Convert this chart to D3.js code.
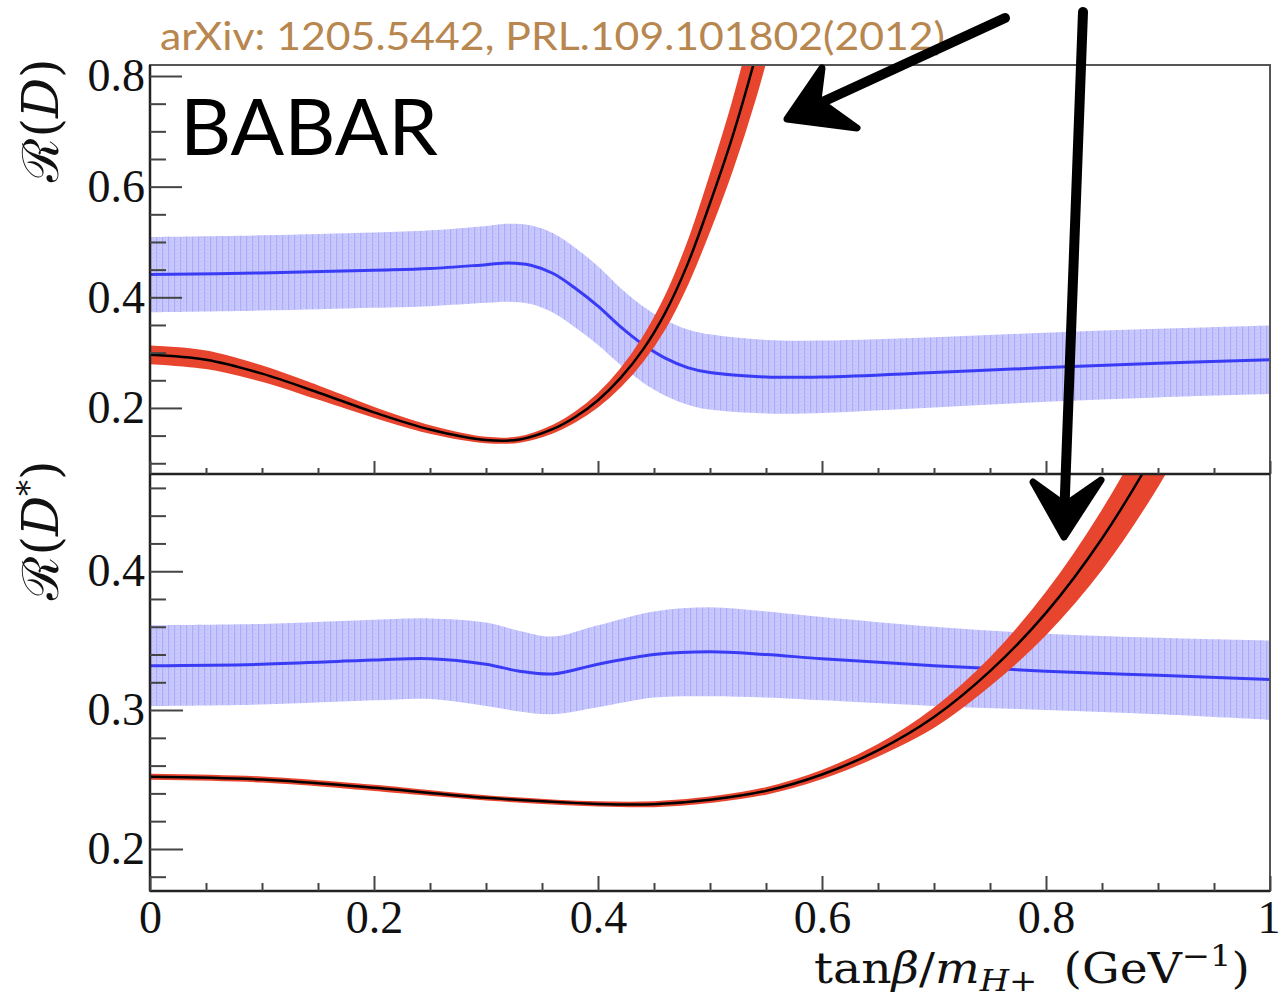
<!DOCTYPE html>
<html><head><meta charset="utf-8">
<script src="https://cdn.jsdelivr.net/npm/d3@7"></script>
<style>body{margin:0;background:#fff}svg{display:block}</style>
</head><body>
<svg id="c" width="1280" height="1002"></svg>
<script>
// ---------- data ----------
const topBlueX     = [0, 0.1, 0.2, 0.25, 0.3, 0.32, 0.34, 0.36, 0.38, 0.4, 0.42, 0.44, 0.46, 0.48, 0.5, 0.55, 0.6, 0.7, 0.8, 0.9, 1.0];
const topBlueMid   = [0.441,0.444,0.449,0.452,0.459,0.462,0.458,0.443,0.416,0.384,0.347,0.315,0.290,0.273,0.264,0.256,0.256,0.264,0.273,0.281,0.287];
const topBlueHigh  = [0.509,0.512,0.517,0.521,0.529,0.533,0.530,0.516,0.489,0.456,0.417,0.384,0.359,0.342,0.333,0.323,0.322,0.328,0.336,0.343,0.349];
const topBlueLow   = [0.373,0.376,0.381,0.384,0.390,0.392,0.388,0.372,0.345,0.314,0.278,0.246,0.222,0.206,0.197,0.190,0.191,0.201,0.211,0.219,0.225];

const topRedX    = [0, 0.05, 0.1, 0.15, 0.2, 0.25, 0.3, 0.33, 0.36, 0.38, 0.4, 0.42, 0.44, 0.46, 0.48, 0.5, 0.52, 0.54, 0.56];
const topRedMid  = [0.296,0.287,0.262,0.228,0.192,0.161,0.142,0.143,0.162,0.184,0.214,0.254,0.305,0.372,0.460,0.570,0.690,0.830,0.990];
const topRedHigh = [0.311,0.302,0.275,0.239,0.200,0.167,0.146,0.147,0.168,0.192,0.225,0.269,0.326,0.400,0.497,0.618,0.750,0.905,1.085];
const topRedLow  = [0.281,0.272,0.249,0.217,0.184,0.155,0.138,0.139,0.156,0.176,0.203,0.239,0.285,0.345,0.425,0.523,0.632,0.758,0.905];

const botBlueX    = [0, 0.1, 0.2, 0.25, 0.3, 0.33, 0.36, 0.4, 0.45, 0.5, 0.55, 0.6, 0.7, 0.8, 0.9, 1.0];
const botBlueMid  = [0.332,0.333,0.336,0.337,0.333,0.328,0.326,0.333,0.340,0.342,0.340,0.337,0.332,0.328,0.325,0.322];
const botBlueHigh = [0.361,0.362,0.365,0.366,0.363,0.357,0.353,0.361,0.371,0.374,0.371,0.367,0.360,0.355,0.352,0.350];
const botBlueLow  = [0.303,0.304,0.307,0.308,0.303,0.299,0.297,0.302,0.309,0.310,0.309,0.307,0.303,0.300,0.297,0.293];

const botRedX    = [0, 0.1, 0.2, 0.3, 0.4, 0.45, 0.5, 0.55, 0.6, 0.65, 0.7, 0.75, 0.8, 0.85, 0.9, 0.95];
const botRedMid  = [0.252,0.250,0.244,0.2368,0.2324,0.2322,0.2354,0.2418,0.2536,0.271,0.295,0.328,0.370,0.4236,0.490,0.570];
const botRedHigh = [0.2535,0.2515,0.2455,0.238,0.2336,0.2336,0.237,0.2438,0.2562,0.2748,0.301,0.337,0.384,0.443,0.515,0.600];
const botRedLow  = [0.2505,0.2485,0.2425,0.2356,0.2312,0.2308,0.2338,0.2398,0.251,0.2672,0.288,0.318,0.355,0.402,0.462,0.535];

const xTickLabels   = ["0","0.2","0.4","0.6","0.8","1"];
const xTickValues   = [0,0.2,0.4,0.6,0.8,1];
const topYTicks     = [0.2,0.4,0.6,0.8];
const topYLabels    = ["0.2","0.4","0.6","0.8"];
const botYTicks     = [0.2,0.3,0.4];
const botYLabels    = ["0.2","0.3","0.4"];
const topYLabel     = "D";
const botYLabel     = "D";
const experimentTxt = "BABAR";
const refTxt        = "arXiv: 1205.5442, PRL.109.101802(2012)";

// ---------- layout ----------
const svg = d3.select("#c");
const X0 = 150, X1 = 1270;
const T0 = 65, T1 = 474, B0 = 474, B1 = 891;
const x = d3.scaleLinear().domain([0,1]).range([X0,X1]);
const yT = d3.scaleLinear().domain([0.0806,0.8199]).range([T1,T0]);
const yB = d3.scaleLinear().domain([0.1697,0.4700]).range([B1,B0]);

const BLUE="#3a3cf5", RED="#e8452f";
const SERIF = "'Liberation Serif','DejaVu Serif',serif";
const MATH = "'DejaVu Serif','Liberation Serif',serif";

const defs = svg.append("defs");
const pat = defs.append("pattern").attr("id","bp").attr("patternUnits","userSpaceOnUse").attr("width",6).attr("height",4);
pat.append("rect").attr("width",6).attr("height",4).attr("fill","#c8c8fd");
pat.append("rect").attr("x",0).attr("width",1.2).attr("height",4).attr("fill","#acacfa");
pat.append("rect").attr("x",3).attr("y",1).attr("width",1).attr("height",1).attr("fill","#b4b4fb");

defs.append("clipPath").attr("id","clipT").append("rect").attr("x",X0).attr("y",T0).attr("width",X1-X0).attr("height",T1-T0);
defs.append("clipPath").attr("id","clipB").append("rect").attr("x",X0).attr("y",B0).attr("width",X1-X0).attr("height",B1-B0);

const CURVE = d3.curveCatmullRom.alpha(0.5);
function drawPanel(clip, y, bx, bm, bh, bl, rx, rm, rh, rl){
  const g = svg.append("g").attr("clip-path",`url(#${clip})`);
  const area = (xs,hi,lo)=> d3.area().curve(CURVE).x((d,i)=>x(xs[i])).y0((d,i)=>y(lo[i])).y1((d,i)=>y(hi[i]))(xs);
  const line = (xs,v)=> d3.line().curve(CURVE).x((d,i)=>x(xs[i])).y((d,i)=>y(v[i]))(xs);
  g.append("path").attr("d",area(bx,bh,bl)).attr("fill","url(#bp)");
  g.append("path").attr("d",line(bx,bm)).attr("fill","none").attr("stroke",BLUE).attr("stroke-width",3);
  g.append("path").attr("d",area(rx,rh,rl)).attr("fill",RED).attr("stroke",RED).attr("stroke-width",2);
  g.append("path").attr("d",line(rx,rm)).attr("fill","none").attr("stroke","#000").attr("stroke-width",2.5);
}
drawPanel("clipT", yT, topBlueX, topBlueMid, topBlueHigh, topBlueLow, topRedX, topRedMid, topRedHigh, topRedLow);
drawPanel("clipB", yB, botBlueX, botBlueMid, botBlueHigh, botBlueLow, botRedX, botRedMid, botRedHigh, botRedLow);

// frames
svg.append("rect").attr("x",X0).attr("y",T0).attr("width",X1-X0).attr("height",T1-T0).attr("fill","none").attr("stroke","#555").attr("stroke-width",2);
svg.append("rect").attr("x",X0).attr("y",B0).attr("width",X1-X0).attr("height",B1-B0).attr("fill","none").attr("stroke","#555").attr("stroke-width",2);
svg.append("line").attr("x1",X0).attr("x2",X0).attr("y1",T0).attr("y2",B1).attr("stroke","#222").attr("stroke-width",2.5);
svg.append("line").attr("x1",X0).attr("x2",X1).attr("y1",B1).attr("y2",B1).attr("stroke","#222").attr("stroke-width",2.5);
svg.append("line").attr("x1",X0).attr("x2",X1).attr("y1",T1).attr("y2",T1).attr("stroke","#222").attr("stroke-width",2.5);

function tickAxis(axis, tx, ty){
  const g = svg.append("g").attr("transform",`translate(${tx},${ty})`).call(axis);
  g.select(".domain").remove();
  g.selectAll("line").attr("stroke","#444").attr("stroke-width",2);
  g.selectAll("text").remove();
  return g;
}
const xMinor = d3.range(0,1.0001,0.05).filter(v=>Math.abs(v*5-Math.round(v*5))>1e-6);
tickAxis(d3.axisTop(x).tickValues(xTickValues).tickSize(13), 0, T1);
tickAxis(d3.axisTop(x).tickValues(xMinor).tickSize(6), 0, T1);
tickAxis(d3.axisTop(x).tickValues(xTickValues).tickSize(15), 0, B1);
tickAxis(d3.axisTop(x).tickValues(xMinor).tickSize(8), 0, B1);

const topMinor = d3.range(0.1,0.8001,0.05).filter(v=>Math.abs(v*5-Math.round(v*5))>1e-6);
tickAxis(d3.axisRight(yT).tickValues(topYTicks).tickSize(32), X0, 0);
tickAxis(d3.axisRight(yT).tickValues(topMinor).tickSize(16), X0, 0);
const botMinor = d3.range(0.18,0.4601,0.02).filter(v=>Math.abs(v*10-Math.round(v*10))>1e-6);
tickAxis(d3.axisRight(yB).tickValues(botYTicks).tickSize(33), X0, 0);
tickAxis(d3.axisRight(yB).tickValues(botMinor).tickSize(16), X0, 0);

function labels(axis, tx, ty){
  const g = svg.append("g").attr("transform",`translate(${tx},${ty})`).call(axis);
  g.select(".domain").remove(); g.selectAll("line").remove();
  g.selectAll("text").attr("font-family",SERIF).attr("font-size",46).attr("fill","#111");
  return g;
}
labels(d3.axisLeft(yT).tickValues(topYTicks).tickFormat((d,i)=>topYLabels[i]).tickSize(0).tickPadding(5), X0, 0);
labels(d3.axisLeft(yB).tickValues(botYTicks).tickFormat((d,i)=>botYLabels[i]).tickSize(0).tickPadding(5), X0, 0);
const xl = labels(d3.axisBottom(x).tickValues(xTickValues).tickFormat((d,i)=>xTickLabels[i]).tickSize(0).tickPadding(9), 0, B1);
xl.selectAll("text").filter((d,i)=>i===xTickValues.length-1).attr("text-anchor","end").attr("dx",10);

function fitWidth(sel, target, ax, ay){
  const w = sel.node().getBBox().width;
  const s = target / w;
  sel.attr("transform",`translate(${ax},${ay}) scale(${s},1) translate(${-ax},${-ay})`);
}

function yTitle(cx, cy, sub, star){
  const t = svg.append("text").attr("transform",`translate(${cx},${cy}) rotate(-90)`).attr("text-anchor","middle")
    .attr("font-family",MATH).attr("font-size",50).attr("fill","#111");
  t.append("tspan").text("\u211B(");
  t.append("tspan").attr("font-style","italic").text(sub);
  if(star) t.append("tspan").attr("font-size",32).attr("dy",-18).text("*");
  t.append("tspan").attr("dy",star?18:0).text(")");
}
yTitle(58, 120, topYLabel, false);
yTitle(58, 530, botYLabel, true);

const xt = svg.append("text").attr("x",1250).attr("y",983).attr("text-anchor","end")
  .attr("font-family",MATH).attr("font-size",42).attr("fill","#111");
xt.append("tspan").text("tan");
xt.append("tspan").attr("font-style","italic").text("\u03B2");
xt.append("tspan").text("/");
xt.append("tspan").attr("font-style","italic").text("m");
xt.append("tspan").attr("font-style","italic").attr("font-size",30).attr("dy",8).text("H+");
xt.append("tspan").attr("dy",-8).attr("dx",10).text(" (GeV");
xt.append("tspan").attr("font-size",30).attr("dy",-17).text("\u22121");
xt.append("tspan").attr("dy",17).text(")");
fitWidth(xt, 436, 1250, 983);

svg.append("text").attr("x",180).attr("y",155).attr("font-family","Lato, 'Open Sans', sans-serif")
  .attr("font-size",78).attr("fill","#000").attr("textLength",258).attr("lengthAdjust","spacingAndGlyphs").text(experimentTxt);
svg.append("text").attr("x",160).attr("y",50).attr("font-family","Lato, 'Open Sans', sans-serif")
  .attr("font-size",38).attr("fill","#b8864f").attr("textLength",785).attr("lengthAdjust","spacingAndGlyphs").text(refTxt);

// hand-drawn arrows (annotations)
const ag = svg.append("g").attr("fill","#000").attr("stroke","#000").attr("stroke-linecap","round").attr("stroke-linejoin","round");
ag.append("path").attr("d","M1005,18 L805,110").attr("stroke-width",10).attr("fill","none");
ag.append("path").attr("d","M787,119 L822,68 L818,100 L857,128 Z").attr("stroke-width",7);
ag.append("path").attr("d","M1083,12 L1064,520").attr("stroke-width",10).attr("fill","none");
ag.append("path").attr("d","M1033,482 L1064,537 L1101,480 L1065,505 Z").attr("stroke-width",7);
</script>
</body></html>
